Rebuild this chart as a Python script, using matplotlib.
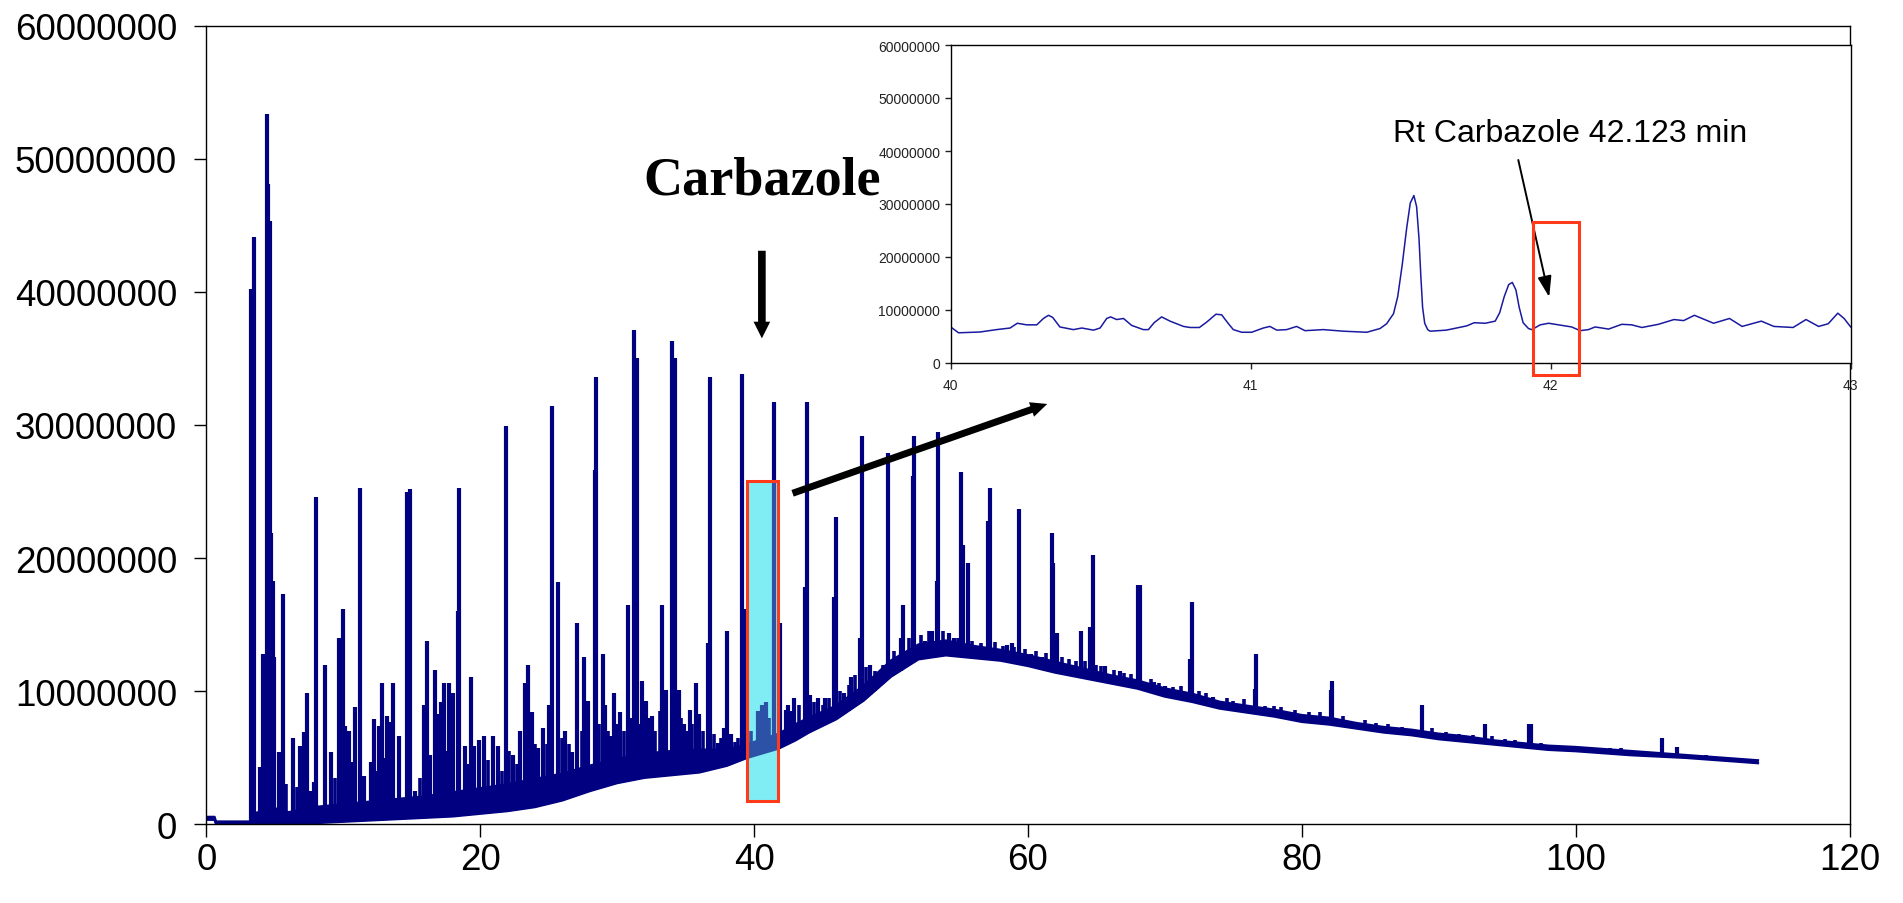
import numpy as np
import matplotlib
matplotlib.use("Agg")
import matplotlib.pyplot as plt
from matplotlib.patches import Rectangle, FancyArrowPatch

plt.rcParams['font.family'] = ['Liberation Sans', 'DejaVu Sans']

# ---------------- data (intensity in millions of counts, time in minutes) ----------------
# dense noise band of the chromatogram (lower / upper envelope)
band_t = [0.0, 0.6, 0.7, 3.2, 3.4, 5.0, 6.0, 8.0, 10.0, 12.0, 14.0, 16.0, 18.0, 20.0, 22.0, 24.0,
          26.0, 28.0, 30.0, 32.0, 34.0, 36.0, 38.0, 39.5, 41.8, 43.0, 44.0, 46.0, 48.0, 50.0, 52.0,
          54.0, 56.0, 58.0, 60.0, 62.0, 64.0, 66.0, 68.0, 70.0, 72.0, 74.0, 76.0, 78.0, 80.0, 82.0,
          84.0, 86.0, 88.0, 90.0, 92.0, 94.0, 96.0, 98.0, 100.0, 104.0, 108.0, 113.3]
band_lo = [0.35, 0.35, 0.05, 0.05, 0.1, 0.1, 0.0, 0.1, 0.2, 0.3, 0.4, 0.5, 0.6, 0.8, 1.0, 1.3,
           1.8, 2.5, 3.1, 3.5, 3.7, 3.9, 4.4, 5.0, 5.7, 6.3, 6.9, 7.9, 9.3, 11.1, 12.4,
           12.7, 12.5, 12.3, 11.9, 11.4, 11.0, 10.6, 10.2, 9.6, 9.2, 8.7, 8.4, 8.1, 7.7, 7.5,
           7.2, 6.9, 6.7, 6.4, 6.2, 6.0, 5.8, 5.6, 5.5, 5.2, 5.0, 4.6]
band_hi = [0.55, 0.55, 0.2, 0.2, 0.8, 1.2, 0.9, 1.3, 1.5, 1.7, 1.9, 2.1, 2.4, 2.7, 3.0, 3.4,
           3.8, 4.4, 4.9, 5.3, 5.5, 5.6, 5.6, 6.0, 6.8, 7.5, 8.0, 8.9, 10.4, 12.3, 13.5,
           13.8, 13.4, 13.1, 12.7, 12.2, 11.7, 11.2, 10.8, 10.2, 9.8, 9.2, 8.9, 8.6, 8.2, 8.0,
           7.6, 7.3, 7.1, 6.8, 6.6, 6.3, 6.1, 5.9, 5.8, 5.5, 5.2, 4.8]

# peaks (retention time, apex intensity)
peak_t = [3.26, 3.50, 3.90, 4.12, 4.41, 4.52, 4.62, 4.70, 4.85, 4.95, 5.30, 5.62, 6.30, 6.86, 7.10,
          7.35, 7.60, 7.85, 8.01, 8.67, 9.10, 9.70, 9.95, 10.15, 10.40, 10.70, 10.84, 11.22, 11.50,
          12.00, 12.25, 12.60, 12.80, 13.20, 13.40, 13.67, 14.10, 14.63, 14.85, 15.25, 15.90, 16.10,
          16.35, 16.70, 16.93, 17.12, 17.35, 17.75, 18.00, 18.38, 18.47, 18.90, 19.30, 19.55, 19.90,
          20.30, 20.90, 21.30, 21.86, 22.40, 22.90, 23.30, 23.50, 23.80, 24.20, 24.60, 25.00, 25.27,
          25.70, 26.20, 26.70, 27.10, 27.60, 27.90, 28.36, 28.46, 28.95, 29.10, 29.55, 29.80, 30.20,
          30.82, 31.22, 31.42, 31.85, 32.10, 32.55, 33.30, 33.45, 33.60, 33.98, 34.20, 34.50, 34.85,
          35.35, 35.75, 36.00, 36.60, 36.78, 37.35, 37.80, 38.00, 38.35, 39.14, 39.40, 40.30, 40.60,
          40.90, 41.48, 41.90, 42.30, 42.50, 42.90, 43.75, 43.84, 44.10, 44.70, 45.20, 45.85, 45.96,
          46.60, 47.10, 47.75, 47.86, 48.50, 49.00, 49.80, 50.70, 50.90, 51.60, 51.70, 52.50, 53.00,
          53.35, 53.43, 54.20, 54.60, 55.10, 55.25, 55.60, 56.30, 57.10, 57.23, 58.50, 58.80, 59.37,
          60.20, 61.00, 61.73, 61.85, 62.10, 63.87, 64.50, 64.73, 65.60, 66.70, 68.00, 68.15, 69.20,
          70.00, 71.85, 71.96, 73.50, 76.55, 76.63, 82.10, 82.18, 88.75, 93.35, 96.60, 96.75,
          106.28, 107.40]
peak_h = [40.2, 44.1, 4.3, 12.8, 53.4, 48.1, 45.3, 21.9, 18.3, 12.6, 5.4, 17.3, 6.5, 5.9, 6.9,
          9.9, 2.5, 3.2, 24.6, 12.0, 5.4, 14.0, 16.2, 7.4, 7.0, 4.7, 8.8, 25.3, 3.6,
          4.7, 7.9, 7.4, 10.6, 8.1, 7.7, 10.6, 6.6, 25.0, 25.2, 2.5, 9.0, 13.8,
          5.2, 11.6, 8.3, 9.2, 10.6, 10.6, 9.9, 16.0, 25.3, 5.9, 11.1, 5.9, 6.3,
          6.6, 6.6, 5.9, 29.9, 5.2, 7.0, 10.6, 12.0, 8.4, 5.7, 7.2, 9.0, 31.4,
          18.2, 7.0, 5.4, 15.1, 12.6, 9.3, 26.6, 33.6, 12.8, 9.0, 6.6, 9.9, 8.4,
          16.5, 37.1, 35.0, 10.8, 9.3, 8.1, 16.5, 7.9, 10.1, 36.3, 35.0, 10.1, 7.5,
          8.6, 10.6, 8.3, 13.6, 33.6, 6.1, 7.2, 14.5, 6.8, 33.8, 16.2, 8.5, 9.0,
          9.2, 31.7, 15.1, 8.6, 9.0, 9.5, 17.8, 31.7, 9.7, 9.5, 9.5, 17.1, 23.1,
          9.9, 11.1, 14.0, 29.2, 12.0, 11.3, 27.9, 14.0, 16.5, 26.2, 29.2, 13.8, 14.5,
          18.3, 29.5, 14.4, 14.0, 26.5, 21.0, 19.6, 13.3, 22.8, 25.3, 13.5, 13.6, 23.7,
          12.8, 12.6, 21.9, 19.6, 14.4, 14.5, 14.8, 20.2, 11.9, 11.5, 18.0, 18.0, 10.7,
          10.4, 12.4, 16.7, 9.6, 10.2, 12.8, 10.1, 10.8, 9.0, 7.5, 7.5, 7.5,
          6.5, 5.8]

# small noise spikes riding on the baseline
noise_t = [5.8, 6.6, 9.4, 12.4, 13.0, 15.6, 17.5, 19.1, 20.6, 21.6, 22.1, 22.7, 24.0, 24.9, 26.0,
           26.5, 27.4, 28.7, 29.3, 30.0, 30.5, 31.0, 31.6, 32.3, 32.8, 33.1, 34.7, 35.1, 35.5, 36.3,
           37.1, 37.6, 38.6, 38.8, 39.8, 41.1, 42.7, 43.3, 44.4, 45.0, 45.5, 46.3, 46.9, 47.4, 48.2,
           48.8, 49.4, 50.2, 51.3, 52.2, 52.8, 53.8, 54.9, 55.9, 56.6, 57.6, 58.2, 59.0, 59.8, 60.6,
           61.3, 62.5, 63.0, 63.5, 64.2, 65.0, 65.3, 66.3, 67.0, 67.5, 69.0, 69.6, 70.6, 71.2, 72.5,
           73.0, 74.5, 75.0, 75.8, 77.3, 78.0, 78.5, 79.5, 80.5, 81.3, 83.0, 84.6, 85.4, 86.3, 87.3,
           89.5, 90.5, 91.5, 92.5, 93.9, 94.8, 95.6, 97.5, 99.0, 101.0, 102.5, 103.3, 105.0, 109.5,
           111.0, 112.5]
noise_h = [3.0, 2.8, 3.5, 4.0, 5.0, 3.5, 5.5, 4.5, 4.8, 4.0, 5.5, 4.5, 6.0, 6.0, 6.5,
           6.0, 7.0, 7.5, 7.0, 7.5, 7.0, 8.0, 7.5, 8.0, 7.0, 8.5, 8.0, 7.0, 7.5, 7.0,
           6.8, 6.5, 6.2, 6.5, 7.0, 8.0, 8.5, 9.0, 9.2, 9.0, 9.5, 10.0, 10.5, 11.2, 11.8,
           11.5, 12.0, 13.0, 14.0, 14.2, 14.5, 14.5, 14.0, 13.8, 13.6, 13.7, 13.4, 13.3, 13.2, 13.0,
           12.9, 12.6, 12.4, 12.3, 12.3, 12.0, 11.9, 11.6, 11.4, 11.3, 10.9, 10.6, 10.3, 10.4, 10.0,
           9.9, 9.5, 9.3, 9.4, 8.9, 8.9, 8.8, 8.6, 8.4, 8.4, 8.1, 7.8, 7.6, 7.5, 7.3,
           7.2, 6.9, 6.8, 6.7, 6.6, 6.4, 6.3, 6.1, 5.9, 5.8, 5.7, 5.7, 5.5, 5.2,
           5.0, 4.9]

# inset: zoom of 40-43 min
inset_t = [40.000, 40.026, 40.098, 40.153, 40.198, 40.222, 40.253, 40.287, 40.309, 40.326, 40.340,
           40.364, 40.409, 40.437, 40.476, 40.498, 40.520, 40.533, 40.553, 40.576, 40.603, 40.642,
           40.659, 40.678, 40.703, 40.731, 40.776, 40.798, 40.829, 40.853, 40.884, 40.903, 40.926,
           40.942, 40.970, 41.003, 41.042, 41.064, 41.087, 41.120, 41.153, 41.181, 41.242, 41.309,
           41.387, 41.431, 41.453, 41.476, 41.490, 41.505, 41.520, 41.532, 41.544, 41.553, 41.561,
           41.567, 41.573, 41.580, 41.590, 41.598, 41.652, 41.720, 41.745, 41.782, 41.815, 41.830,
           41.845, 41.860, 41.872, 41.884, 41.895, 41.908, 41.926, 41.937, 41.965, 41.993, 42.026,
           42.070, 42.098, 42.126, 42.148, 42.193, 42.237, 42.270, 42.304, 42.359, 42.411, 42.443,
           42.479, 42.543, 42.596, 42.638, 42.702, 42.744, 42.808, 42.851, 42.893, 42.925, 42.957,
           42.978, 43.000]
inset_y = [6.8, 5.7, 5.85, 6.3, 6.6, 7.5, 7.2, 7.2, 8.4, 9.0, 8.6,
           6.8, 6.3, 6.6, 6.2, 6.6, 8.4, 8.7, 8.2, 8.4, 7.1, 6.3,
           6.3, 7.6, 8.7, 7.9, 6.9, 6.7, 6.7, 7.7, 9.2, 9.1, 7.4,
           6.3, 5.8, 5.8, 6.6, 6.9, 6.2, 6.3, 6.9, 6.1, 6.3, 6.0,
           5.8, 6.5, 7.4, 9.3, 12.5, 18.5, 25.5, 30.2, 31.6, 29.5, 23.5,
           16.5, 10.5, 7.5, 6.3, 6.0, 6.2, 7.0, 7.6, 7.5, 7.9, 9.5,
           12.5, 14.8, 15.2, 13.8, 10.5, 7.6, 6.5, 6.3, 7.2, 7.5, 7.2,
           6.8, 6.1, 6.3, 6.8, 6.4, 7.3, 7.2, 6.7, 7.3, 8.2, 8.0,
           9.0, 7.5, 8.4, 6.9, 7.9, 6.9, 6.7, 8.2, 6.9, 7.4, 9.4,
           8.4, 6.8]

y_ticks = [0, 10, 20, 30, 40, 50, 60]
y_tick_labels = ["0", "10000000", "20000000", "30000000", "40000000", "50000000", "60000000"]
x_ticks = [0, 20, 40, 60, 80, 100, 120]
x_tick_labels = ["0", "20", "40", "60", "80", "100", "120"]
inset_x_ticks = [40, 41, 42, 43]
inset_x_labels = ["40", "41", "42", "43"]

NAVY = "#000080"
RED = "#FF3A1A"
CYAN = "#80ECF4"

W, H = 1903, 904
fig = plt.figure(figsize=(W / 100, H / 100), dpi=100)
fig.patch.set_facecolor("white")

# ---------------- main chromatogram ----------------
ax = fig.add_axes([206.3 / W, (H - 825.3) / H, 1643.3 / W, 798.6 / H])
ax.set_xlim(0, 120)
ax.set_ylim(0, 60)

# highlighted window (behind trace)
ax.add_patch(Rectangle((39.46, 1.75), 2.31, 24.05, facecolor=CYAN, edgecolor="none", zorder=1))

ax.fill_between(band_t, band_lo, band_hi, color=NAVY, lw=0, zorder=2)
ax.plot(band_t, band_lo, color=NAVY, lw=1.8, zorder=2)
ax.plot(band_t, band_hi, color=NAVY, lw=1.8, zorder=2)
base = np.interp(peak_t, band_t, band_lo)
ax.vlines(peak_t, base, peak_h, colors=NAVY, lw=3.0, zorder=2)
nbase = np.interp(noise_t, band_t, band_lo)
ax.vlines(noise_t, nbase, noise_h, colors=NAVY, lw=2.6, zorder=2)

# translucent overlay + red frame
ax.add_patch(Rectangle((39.46, 1.75), 2.31, 24.05, facecolor=CYAN, edgecolor="none", alpha=0.35, zorder=3))
ax.add_patch(Rectangle((39.46, 1.75), 2.31, 24.05, facecolor="none", edgecolor=RED, lw=2.2, zorder=4))

ax.set_xticks(x_ticks)
ax.set_xticklabels(x_tick_labels)
ax.set_yticks(y_ticks)
ax.set_yticklabels(y_tick_labels)
ax.tick_params(axis="both", direction="out", length=9, width=1.0, colors="black", labelsize=26.5)
ax.tick_params(axis="y", pad=12)
ax.tick_params(axis="x", pad=4)
for s in ax.spines.values():
    s.set_linewidth(1.0)
    s.set_color("black")

ax.text(31.9, 47.4, "Carbazole", fontsize=39, fontweight="bold",
        family=["Liberation Serif", "DejaVu Serif"], ha="left", va="baseline", zorder=6)

ax.add_patch(FancyArrowPatch((40.57, 43.3), (40.57, 36.3),
                             arrowstyle="simple,head_width=12,head_length=12,tail_width=5.5",
                             mutation_scale=1, color="black", lw=0, zorder=6))
ax.add_patch(FancyArrowPatch((42.62, 24.8), (61.6, 31.65),
                             arrowstyle="simple,head_width=11,head_length=12,tail_width=5",
                             mutation_scale=1, color="black", lw=0, zorder=6))

# ---------------- inset ----------------
axi = fig.add_axes([950.7 / W, (H - 364) / H, 900 / W, 318 / H], zorder=5)
axi.set_facecolor("white")
axi.plot(inset_t, inset_y, color="#1a1aa0", lw=1.1)
axi.set_xlim(40, 43)
axi.set_ylim(0, 60)
axi.set_xticks(inset_x_ticks)
axi.set_xticklabels(inset_x_labels)
axi.set_yticks(y_ticks)
axi.set_yticklabels(y_tick_labels)
axi.tick_params(axis="both", direction="out", length=4.5, width=1.0, colors="#222222", labelsize=10)
axi.tick_params(axis="y", pad=3)
axi.tick_params(axis="x", pad=6)
for s in axi.spines.values():
    s.set_linewidth(1.0)
    s.set_color("black")

axi.add_patch(Rectangle((41.94, -2.3), 0.155, 28.9, facecolor="none", edgecolor=RED,
                        lw=2.2, clip_on=False, zorder=4))
axi.text(41.474, 41.8, "Rt Carbazole 42.123 min", fontsize=23, ha="left", va="baseline")
axi.annotate("", xy=(41.995, 12.45), xytext=(41.892, 38.3),
             arrowprops=dict(arrowstyle="-|>,head_width=0.3,head_length=0.9", lw=1.4,
                             color="black", shrinkA=0, shrinkB=0, mutation_scale=14))

fig.savefig("out.png", dpi=100, facecolor="white")
